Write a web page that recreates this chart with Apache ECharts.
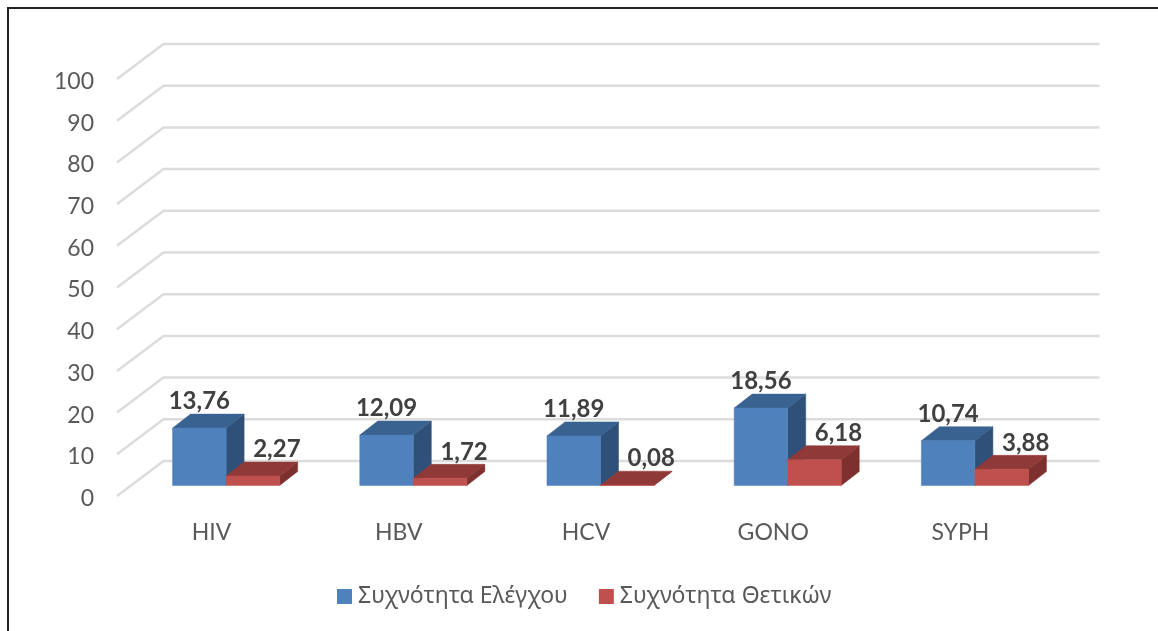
<!DOCTYPE html>
<html><head><meta charset="utf-8">
<style>html,body{margin:0;padding:0;background:#fff}#c{width:1158px;height:631px}</style>
<script src="https://cdn.jsdelivr.net/npm/echarts@6/dist/echarts.min.js"></script>
</head><body><div id="c"></div>
<script>
const categories = ['HIV','HBV','HCV','GONO','SYPH'];
const controlName = 'Συχνότητα Ελέγχου';
const positiveName = 'Συχνότητα Θετικών';
const controlValues = [13.76,12.09,11.89,18.56,10.74];
const positiveValues = [2.27,1.72,0.08,6.18,3.88];
const yTicks = [0,10,20,30,40,50,60,70,80,90,100];

const FONT = 'Lato, "Noto Sans", sans-serif';
const WALL = {dx:46.5, dy:-35}, FLOOR = {dx:15.5, dy:-10.5}, DEPTH = {dx:18, dy:-14};
const BAR_RATIO = 0.286;
const POSITIVE_LABEL_SHIFT = 24;

function fmt(v){ return v.toFixed(2).replace('.',','); }
function poly(points, fill){ return {type:'polygon', shape:{points}, style:{fill, stroke:fill, lineWidth:0.5}}; }

function barRenderer(side, colors, labelShift){
  return function(params, api){
    const i = api.value(0), v = api.value(1);
    const base = api.coord([i,0]), top = api.coord([i,v]);
    const w = api.size([1,0])[0]*BAR_RATIO;
    const x0 = base[0]+FLOOR.dx+(side<0?-w:0), x1 = x0+w;
    const yb = base[1]+FLOOR.dy, yt = top[1]+FLOOR.dy;
    const d = DEPTH;
    return {type:'group', children:[
      poly([[x1,yb],[x1+d.dx,yb+d.dy],[x1+d.dx,yt+d.dy],[x1,yt]], colors.side),
      poly([[x0,yt],[x1,yt],[x1+d.dx,yt+d.dy],[x0+d.dx,yt+d.dy]], colors.top),
      poly([[x0,yb],[x1,yb],[x1,yt],[x0,yt]], colors.front),
      {type:'text', z2:10, style:{text:fmt(v), x:(x0+x1)/2+labelShift, y:yt-26.5,
        align:'center', verticalAlign:'middle', fill:'#404040', font:'bold 24px '+FONT}}
    ]};
  };
}

const chart = echarts.init(document.getElementById('c'), null, {renderer:'canvas'});
chart.setOption({
  animation:false,
  backgroundColor:'#fff',
  grid:{left:117, right:105, top:79, bottom:135},
  xAxis:{type:'category', data:categories,
    axisLine:{show:false}, axisTick:{show:false}, splitLine:{show:false},
    axisLabel:{color:'#595959', fontFamily:FONT, fontSize:23, margin:25, padding:[0,0,0,2]}},
  yAxis:{type:'value', min:0, max:100, interval:10,
    axisLine:{show:false}, axisTick:{show:false}, splitLine:{show:false},
    axisLabel:{margin:23, formatter:'{t|{value}}',
      rich:{t:{color:'#595959', fontFamily:FONT, fontSize:23, padding:[5,0,0,0]}}}},
  legend:{left:332, top:580, itemWidth:15, itemHeight:15, itemGap:31, icon:'rect',
    selectedMode:false,
    data:[controlName, positiveName],
    textStyle:{color:'#595959', fontFamily:'"Noto Sans", sans-serif', fontSize:23, padding:[0,0,0,1]}},
  graphic:[
    {type:'polyline', z:100, shape:{points:[[8,631],[8,8],[1158,8]]}, style:{stroke:'#222', lineWidth:2, fill:null}}
  ],
  series:[
    {type:'custom', name:'grid', silent:true, clip:false, z:1,
      data:yTicks.map(t=>[0,t]),
      encode:{x:0,y:1},
      renderItem(params, api){
        const t = api.value(1);
        const a = api.coord([0,t]);
        const r = params.coordSys.x+params.coordSys.width;
        const l = params.coordSys.x;
        return {type:'polyline', shape:{points:[[l,a[1]],[l+WALL.dx,a[1]+WALL.dy],[r+WALL.dx,a[1]+WALL.dy]]},
          style:{stroke:'#dcdcdc', lineWidth:2.5, fill:null}};
      }},
    {type:'custom', name:controlName, clip:false, z:3,
      itemStyle:{color:'#4f81bd'},
      data:controlValues.map((v,i)=>[i,v]), encode:{x:0,y:1},
      renderItem:barRenderer(-1,{front:'#4f81bd',top:'#3a6291',side:'#2f5078'},0)},
    {type:'custom', name:positiveName, clip:false, z:4,
      itemStyle:{color:'#c0504d'},
      data:positiveValues.map((v,i)=>[i,v]), encode:{x:0,y:1},
      renderItem:barRenderer(1,{front:'#c0504d',top:'#8f3a38',side:'#7d302e'},POSITIVE_LABEL_SHIFT)}
  ]
});
</script></body></html>
